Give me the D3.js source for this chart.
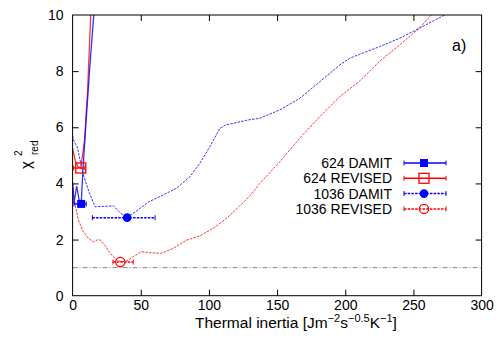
<!DOCTYPE html>
<html>
<head>
<meta charset="utf-8">
<script src="https://cdn.jsdelivr.net/npm/d3@7"></script>
<style>
  body { margin: 0; background: #fff; }
  text { font-family: "Liberation Sans", Arial, sans-serif; }
</style>
</head>
<body>
<div id="chart"></div>
<script>
// chi^2 curves: [thermal inertia, chi2_red]
const curve624Damit = [[0, 4.05], [1, 3.3], [3, 3.9], [5, 3.35], [6.3, 3.27], [7.5, 4.4], [10, 6.3], [13, 8.4], [16, 10.3], [18, 11.8]];
const curve624Revised = [[0, 5.25], [2, 4.8], [4, 4.6], [6, 4.55], [8.8, 5.55], [11, 7.3], [13.3, 10], [15, 11.6]];
const curve1036Damit = [[0, 5.7], [1, 5.5], [3.4, 5.3], [7.9, 4.3], [12, 3.7], [16.5, 3.17], [23, 3.18], [30, 3.2], [35, 2.95], [40, 2.78],
  [49.4, 3.11], [56, 3.35], [64, 3.53], [76.3, 3.83], [86, 4.24], [93.4, 4.72], [100.7, 5.31], [108, 5.96], [112, 6.08],
  [117.8, 6.14], [128.7, 6.26], [137.3, 6.32], [152, 6.62], [166.6, 7.03], [181.3, 7.62], [196, 8.22], [203.3, 8.46],
  [210.6, 8.6], [225, 8.87], [239.8, 9.17], [254.4, 9.53], [272.9, 10], [280, 10.2]];
const curve1036Revised = [[0, 4.0], [0.5, 3.77], [2, 3.2], [4.2, 2.7], [7.8, 2.28], [11.5, 2.05], [15.2, 1.92], [18.8, 2.0],
  [20.5, 1.98], [23.7, 1.8], [26.5, 1.58], [29.8, 1.39], [33.5, 1.24], [36, 1.2], [40, 1.25], [44.5, 1.39], [50.6, 1.57],
  [56.7, 1.53], [65.3, 1.51], [73.8, 1.69], [83.6, 1.98], [93.4, 2.13], [103, 2.4], [113, 2.76], [122.7, 3.2], [130, 3.55],
  [137.3, 4.0], [152, 4.77], [166.6, 5.61], [181.3, 6.38], [196, 7.09], [210.6, 7.65], [225, 8.34], [239.8, 8.93],
  [254.4, 9.53], [263, 10], [270, 10.4]];

// best fits: [x, y, xlow, xhigh]
const best624Damit = [6.3, 3.27, 1, 10];
const best624Revised = [6, 4.55, 0.5, 9];
const best1036Damit = [40, 2.78, 14.5, 60.5];
const best1036Revised = [35, 1.2, 29.6, 44.5];

const seriesNames = ['624 DAMIT', '624 REVISED', '1036 DAMIT', '1036 REVISED'];
const xTicks = [0, 50, 100, 150, 200, 250, 300];
const yTicks = [0, 2, 4, 6, 8, 10];
const refLevel = 1;

const width = 500, height = 350;
const margin = { left: 72.6, right: 18.4, top: 15, bottom: 54.3 };
const x = d3.scaleLinear().domain([0, 300]).range([margin.left, width - margin.right]);
const y = d3.scaleLinear().domain([0, 10]).range([height - margin.bottom, margin.top]);

const svg = d3.select('#chart').append('svg')
  .attr('width', width).attr('height', height);

svg.append('defs').append('clipPath').attr('id', 'clip')
  .append('rect')
  .attr('x', x(0)).attr('y', y(10))
  .attr('width', x(300) - x(0)).attr('height', y(0) - y(10));

// axes with inward ticks on all four sides
const tickLen = 6;
const axB = svg.append('g').attr('transform', `translate(0,${y(0)})`)
  .call(d3.axisBottom(x).tickValues(xTicks).tickSize(-tickLen).tickPadding(4.5));
const axT = svg.append('g').attr('transform', `translate(0,${y(10)})`)
  .call(d3.axisTop(x).tickValues(xTicks).tickSize(-tickLen).tickFormat(''));
const axL = svg.append('g').attr('transform', `translate(${x(0)},0)`)
  .call(d3.axisLeft(y).tickValues(yTicks).tickSize(-tickLen).tickPadding(9));
const axR = svg.append('g').attr('transform', `translate(${x(300)},0)`)
  .call(d3.axisRight(y).tickValues(yTicks).tickSize(-tickLen).tickFormat(''));
[axB, axT, axL, axR].forEach(a => {
  a.select('.domain').remove();
  a.selectAll('line').attr('stroke', '#000');
  a.selectAll('text').attr('font-size', 14).attr('fill', '#000')
    .style('font-family', '"Liberation Sans", Arial, sans-serif');
});
axB.selectAll('.tick').filter(d => d === 0 || d === 300).select('line').remove();
axT.selectAll('.tick').filter(d => d === 0 || d === 300).select('line').remove();
axL.selectAll('.tick').filter(d => d === 0 || d === 10).select('line').remove();
axR.selectAll('.tick').filter(d => d === 0 || d === 10).select('line').remove();

// reference line chi2 = 1
svg.append('line')
  .attr('x1', x(0)).attr('x2', x(300))
  .attr('y1', y(refLevel)).attr('y2', y(refLevel))
  .attr('stroke', '#777').attr('stroke-width', 0.9)
  .attr('stroke-dasharray', '5,2,1,2');

const line = d3.line().x(d => x(d[0])).y(d => y(d[1]));
const plot = svg.append('g').attr('clip-path', 'url(#clip)');

const styles = [
  { color: '#0000ff', dash: null, filled: true, shape: 'square', curve: curve624Damit, best: best624Damit },
  { color: '#ff0000', dash: null, filled: false, shape: 'square', curve: curve624Revised, best: best624Revised },
  { color: '#0000ff', dash: '2.5,1.2', filled: true, shape: 'circle', curve: curve1036Damit, best: best1036Damit },
  { color: '#ff0000', dash: '2.5,1.2', filled: false, shape: 'circle', curve: curve1036Revised, best: best1036Revised }
];

// curves (drawn in reverse so 624 ends up on top)
styles.slice().reverse().forEach(s => {
  plot.append('path')
    .datum(s.curve)
    .attr('d', line)
    .attr('fill', 'none')
    .attr('stroke', s.color)
    .attr('stroke-opacity', 0.8)
    .attr('stroke-width', s.dash ? 1 : 1.3)
    .attr('stroke-dasharray', s.dash);
});

function drawMarker(g, s, cx, cy) {
  if (s.shape === 'square') {
    const sz = s.filled ? 8 : 10;
    g.append('rect')
      .attr('x', cx - sz / 2).attr('y', cy - sz / 2)
      .attr('width', sz).attr('height', sz)
      .attr('fill', s.filled ? s.color : 'none')
      .attr('stroke', s.color).attr('stroke-width', s.filled ? 0 : 1.3);
  } else {
    g.append('circle')
      .attr('cx', cx).attr('cy', cy).attr('r', s.filled ? 4.3 : 4.6)
      .attr('fill', s.filled ? s.color : 'none')
      .attr('stroke', s.color).attr('stroke-width', s.filled ? 0 : 1.3);
  }
}

function drawErrorBar(g, s, x1, x2, cy) {
  g.append('line')
    .attr('x1', x1).attr('x2', x2).attr('y1', cy).attr('y2', cy)
    .attr('stroke', s.color).attr('stroke-width', 1.5)
    .attr('stroke-dasharray', s.dash);
  [x1, x2].forEach(xx => {
    g.append('line')
      .attr('x1', xx).attr('x2', xx).attr('y1', cy - 2.5).attr('y2', cy + 2.5)
      .attr('stroke', s.color).attr('stroke-width', 1);
  });
}

// best-fit points with horizontal error bars
styles.slice().reverse().forEach(s => {
  const b = s.best;
  drawErrorBar(plot, s, x(b[2]), x(b[3]), y(b[1]));
  drawMarker(plot, s, x(b[0]), y(b[1]));
});

// frame
svg.append('rect')
  .attr('x', x(0)).attr('y', y(10))
  .attr('width', x(300) - x(0)).attr('height', y(0) - y(10))
  .attr('fill', 'none').attr('stroke', '#000').attr('stroke-width', 1);

// legend
const legend = svg.append('g');
styles.forEach((s, i) => {
  const cy = 163 + i * 15.3;
  legend.append('text')
    .attr('x', 392).attr('y', cy + 5)
    .attr('text-anchor', 'end').attr('font-size', 14)
    .text(seriesNames[i]);
  drawErrorBar(legend, s, 404, 446, cy);
  drawMarker(legend, s, 424, cy);
});

// panel label
svg.append('text')
  .attr('x', 452).attr('y', 51)
  .attr('font-size', 16)
  .text('a)');

// x axis title
const xt = svg.append('text')
  .attr('x', 195).attr('y', 328)
  .attr('font-size', 15.5);
xt.append('tspan').text('Thermal inertia [Jm');
xt.append('tspan').attr('dy', -6).attr('font-size', 11).text('−2');
xt.append('tspan').attr('dy', 6).text('s');
xt.append('tspan').attr('dy', -6).attr('font-size', 11).text('−0.5');
xt.append('tspan').attr('dy', 6).text('K');
xt.append('tspan').attr('dy', -6).attr('font-size', 11).text('−1');
xt.append('tspan').attr('dy', 6).text(']');

// y axis title: chi^2_red
const yt = svg.append('g').attr('transform', 'translate(31,169) rotate(-90)');
yt.append('text').attr('x', 0).attr('y', 0).attr('font-size', 15).text('χ');
yt.append('text').attr('x', 13).attr('y', -9).attr('font-size', 10).text('2');
yt.append('text').attr('x', 14).attr('y', 7).attr('font-size', 10).text('red');
</script>
</body>
</html>
